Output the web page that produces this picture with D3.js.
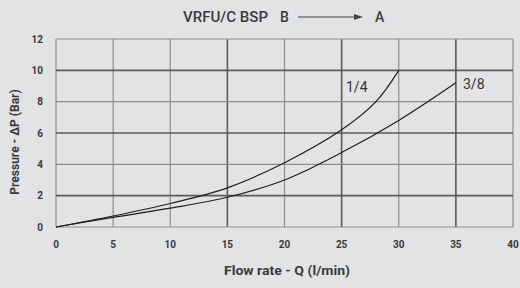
<!DOCTYPE html>
<html>
<head>
<meta charset="utf-8">
<script src="https://cdn.jsdelivr.net/npm/d3@7"></script>
<style>
  body { margin: 0; background: #e2e3e5; }
  text { font-family: "Roboto", sans-serif; }
</style>
</head>
<body>
<div id="chart"></div>
<script>
// data
var flowTicks = [0, 5, 10, 15, 20, 25, 30, 35, 40];
var pressureTicks = [0, 2, 4, 6, 8, 10, 12];
var quarter = [[0, 0], [5, 0.7], [10, 1.5], [15, 2.5], [20, 4.1], [25, 6.2], [28, 8.0], [30, 10]];
var threeEighth = [[0, 0], [5, 0.62], [10, 1.2], [15, 1.9], [20, 3.0], [25, 4.75], [30, 6.8], [35, 9.2]];
var seriesNames = ['1/4', '3/8'];

var width = 520, height = 288,
    margins = {left: 56, right: 7, top: 39, bottom: 61};

var svg = d3.select('#chart').append('svg')
    .attr('width', width)
    .attr('height', height);

svg.append('rect')
    .attr('width', width).attr('height', height)
    .attr('fill', '#e2e3e5');

var x = d3.scaleLinear().domain([0, 40]).range([margins.left, width - margins.right]);
var y = d3.scaleLinear().domain([0, 12]).range([height - margins.bottom, margins.top]);

// grid, every other line heavier
var darkX = [15, 25, 35], darkY = [2, 6, 10];

svg.append('g').selectAll('line')
    .data(flowTicks)
    .enter().append('line')
    .attr('x1', function(d) { return x(d); })
    .attr('x2', function(d) { return x(d); })
    .attr('y1', y(0)).attr('y2', y(12))
    .attr('stroke', function(d) { return darkX.indexOf(d) >= 0 ? '#5a5a5a' : '#8e8e8e'; })
    .attr('stroke-width', function(d) { return darkX.indexOf(d) >= 0 ? 1.6 : 1.2; });

svg.append('g').selectAll('line')
    .data(pressureTicks)
    .enter().append('line')
    .attr('y1', function(d) { return y(d); })
    .attr('y2', function(d) { return y(d); })
    .attr('x1', x(0)).attr('x2', x(40))
    .attr('stroke', function(d) { return darkY.indexOf(d) >= 0 ? '#5a5a5a' : '#8e8e8e'; })
    .attr('stroke-width', function(d) { return darkY.indexOf(d) >= 0 ? 1.6 : 1.2; });

// tick labels
svg.append('g').selectAll('text')
    .data(flowTicks)
    .enter().append('text')
    .attr('x', function(d) { return x(d); })
    .attr('y', 248)
    .attr('text-anchor', 'middle')
    .attr('font-size', 10)
    .attr('font-weight', 'bold')
    .attr('fill', '#3a3a3a')
    .text(function(d) { return d; });

svg.append('g').selectAll('text')
    .data(pressureTicks)
    .enter().append('text')
    .attr('x', 43)
    .attr('y', function(d) { return y(d) + 3.5; })
    .attr('text-anchor', 'end')
    .attr('font-size', 10)
    .attr('font-weight', 'bold')
    .attr('fill', '#3a3a3a')
    .text(function(d) { return d; });

// curves
var line = d3.line()
    .x(function(d) { return x(d[0]); })
    .y(function(d) { return y(d[1]); })
    .curve(d3.curveCatmullRom.alpha(0.5));

svg.append('g').selectAll('path')
    .data([quarter, threeEighth])
    .enter().append('path')
    .attr('d', line)
    .attr('fill', 'none')
    .attr('stroke', '#1e1e1e')
    .attr('stroke-width', 1.2);

svg.append('text')
    .attr('x', 346).attr('y', 92)
    .attr('font-size', 14)
    .attr('fill', '#333')
    .text(seriesNames[0]);

svg.append('text')
    .attr('x', 463).attr('y', 89)
    .attr('font-size', 14)
    .attr('fill', '#333')
    .text(seriesNames[1]);

// title
svg.append('text')
    .attr('x', 183).attr('y', 22)
    .attr('font-size', 14)
    .attr('font-weight', 500)
    .attr('fill', '#3a3a3a')
    .attr('textLength', 85)
    .attr('lengthAdjust', 'spacingAndGlyphs')
    .text('VRFU/C BSP');

svg.append('text')
    .attr('x', 280).attr('y', 22)
    .attr('font-size', 14)
    .attr('font-weight', 500)
    .attr('fill', '#3a3a3a')
    .text('B');

svg.append('line')
    .attr('x1', 298).attr('x2', 356)
    .attr('y1', 17).attr('y2', 17)
    .attr('stroke', '#444').attr('stroke-width', 1);

svg.append('path')
    .attr('d', 'M354,14 L363,17 L354,20 Z')
    .attr('fill', '#444');

svg.append('text')
    .attr('x', 375).attr('y', 22)
    .attr('font-size', 14)
    .attr('font-weight', 500)
    .attr('fill', '#3a3a3a')
    .text('A');

// axis titles
svg.append('text')
    .attr('x', 287).attr('y', 275)
    .attr('text-anchor', 'middle')
    .attr('font-size', 12)
    .attr('font-weight', 'bold')
    .attr('fill', '#3a3a3a')
    .attr('textLength', 126)
    .attr('lengthAdjust', 'spacingAndGlyphs')
    .text('Flow rate - Q (l/min)');

svg.append('text')
    .attr('transform', 'translate(19,142) rotate(-90)')
    .attr('text-anchor', 'middle')
    .attr('font-size', 12)
    .attr('font-weight', 'bold')
    .attr('fill', '#3a3a3a')
    .text('Pressure - \u0394P (Bar)');
</script>
</body>
</html>
